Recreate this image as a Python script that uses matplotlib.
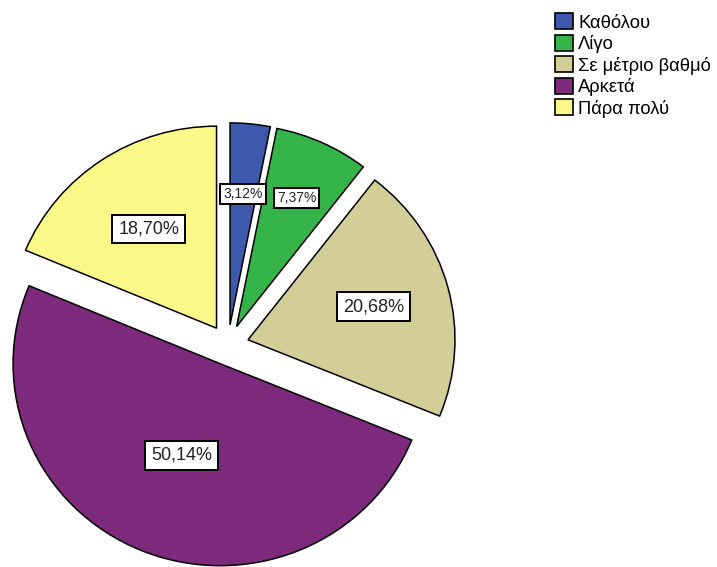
import numpy as np
import matplotlib.pyplot as plt
from matplotlib.patches import Patch

plt.rcParams['font.family'] = ['Liberation Sans', 'DejaVu Sans']

categories = ['Καθόλου', 'Λίγο', 'Σε μέτριο βαθμό', 'Αρκετά', 'Πάρα πολύ']
values = [3.12, 7.37, 20.68, 50.14, 18.70]
colors = ['#3e58ac', '#35b44a', '#d3ce97', '#7d2a7d', '#fbf88a']

# per-slice label distance (from the wedge centre), font size and box padding
label_dist = [0.65, 0.70, 0.63, 0.49, 0.59]
label_size = [10, 10, 13, 13, 13]
label_pad = [0.22, 0.22, 0.33, 0.33, 0.33]

fig = plt.figure(figsize=(7.17, 5.67), dpi=100)
W, H = 717, 567
rx, ry = 207, 202          # pixel radius horizontally / vertically
cx, cy = 228, 345          # pie centre in pixels (from top-left)
lim = 1.2
ax = fig.add_axes([(cx - lim * rx) / W, (H - cy - lim * ry) / H,
                   2 * lim * rx / W, 2 * lim * ry / H])

wedges, _ = ax.pie(values, colors=colors, startangle=90, counterclock=False,
                   explode=[0.1] * len(values), radius=1,
                   wedgeprops=dict(edgecolor='black', linewidth=1.1))
ax.set_xlim(-lim, lim)
ax.set_ylim(-lim, lim)
ax.set_aspect('auto')
ax.axis('off')

for w, v, d, fs, pad in zip(wedges, values, label_dist, label_size, label_pad):
    mid = np.deg2rad((w.theta1 + w.theta2) / 2)
    x0, y0 = w.center
    ax.text(x0 + d * np.cos(mid), y0 + d * np.sin(mid),
            f'{v:.2f}%'.replace('.', ','), ha='center', va='center',
            fontsize=fs, color='#222222',
            bbox=dict(boxstyle=f'square,pad={pad}', facecolor='white',
                      edgecolor='black', linewidth=1.4))

handles = [Patch(facecolor=c, edgecolor='black', linewidth=1.2) for c in colors]
fig.legend(handles, categories, loc='upper left',
           bbox_to_anchor=(548 / W, 1 - 6 / H), frameon=False,
           fontsize=13.2, handlelength=0.95, handleheight=0.95,
           handletextpad=0.3, labelspacing=0.18, borderaxespad=0)

plt.savefig('out.png', dpi=100)
